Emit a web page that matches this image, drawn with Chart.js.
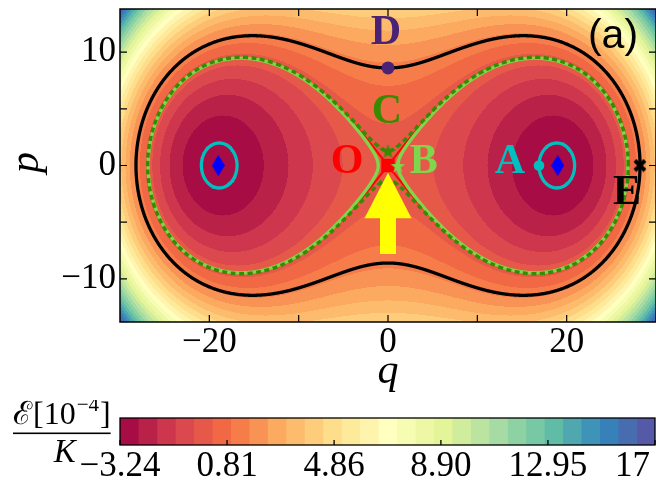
<!DOCTYPE html>
<html>
<head>
<meta charset="utf-8">
<script src="https://cdn.jsdelivr.net/npm/chart.js@4.4.1/dist/chart.umd.min.js"></script>
<style>
  html, body { margin: 0; padding: 0; background: #fff; width: 656px; height: 482px; overflow: hidden; }
  canvas { position: absolute; left: 0; }
  #main { top: 0; }
  #bar { top: 400px; }
</style>
</head>
<body>
<canvas id="main" width="656" height="400"></canvas>
<canvas id="bar" width="656" height="82"></canvas>
<script>
// Energy landscape E(q,p)/K of the double-well oscillator, in units of 1e-4
const Q_WELL = 19;        // well centres at q = ±19, saddle at the origin
const E_MIN = -3.24;      // energy at the bottom of the wells
const E_MAX = 17;         // top of the colour scale
const N_BANDS = 29;       // number of filled contour bands

const Q_RANGE = [-30, 30];
const P_RANGE = [-13.8, 13.8];

const X_TICKS = [-20, -10, 0, 10, 20];
const X_TICK_LABELS = ['\u221220', '', '0', '', '20'];
const Y_TICKS = [-10, -5, 0, 5, 10];
const Y_TICK_LABELS = ['\u221210', '', '0', '', '10'];
const CB_TICKS = [-3.24, 0.81, 4.86, 8.90, 12.95, 17];
const CB_TICK_LABELS = ['\u22123.24', '0.81', '4.86', '8.90', '12.95', '17'];

// labelled phase-space points
const POINT_NAMES = ['O', 'A', 'B', 'C', 'D', 'E'];
const POINT_Q = [0, 16.9, 1.1, 0, 0, 28.2];
const POINT_P = [0, 0, 0, 1.3, 8.6, 0];
// well minima
const WELL_Q = [-19, 19];
const WELL_P = [0, 0];
// arrow pointing at the saddle
const ARROW_TAIL = [0, -7.8];
const ARROW_TIP = [0, -0.63];

// ---------------------------------------------------------------------------
const H_SCALE = -E_MIN / Math.pow(Q_WELL, 4);
function energy(q, p) {
  const r2 = q * q + p * p;
  return H_SCALE * (r2 * r2 - 2 * Q_WELL * Q_WELL * (q * q - p * p));
}
const LEVELS = Array.from({ length: N_BANDS + 1 }, (_, i) => E_MIN + i * (E_MAX - E_MIN) / N_BANDS);

const SPECTRAL_STOPS = [[158,1,66],[213,62,79],[244,109,67],[253,174,97],[254,224,139],[255,255,191],
                        [230,245,152],[171,221,164],[102,194,165],[50,136,189],[94,79,162]];
function spectral(t) {
  const s = t * (SPECTRAL_STOPS.length - 1);
  const i = Math.min(Math.floor(s), SPECTRAL_STOPS.length - 2);
  const f = s - i, a = SPECTRAL_STOPS[i], b = SPECTRAL_STOPS[i + 1];
  return a.map((v, k) => Math.round(v + (b[k] - v) * f));
}
const BAND_RGB = Array.from({ length: N_BANDS }, (_, i) => spectral((i + 0.5) / N_BANDS));
const BAND_COLORS = BAND_RGB.map(c => `rgb(${c[0]},${c[1]},${c[2]})`);

function pointOf(name) {
  const i = POINT_NAMES.indexOf(name);
  return { x: POINT_Q[i], y: POINT_P[i] };
}

// closed level curve energy(q,p) = E, traced along rays from an interior centre
function levelCurve(E, cq, cp, n) {
  const pts = [];
  for (let k = 0; k < n; k++) {
    const a = 2 * Math.PI * (k + 0.5) / n, c = Math.cos(a), s = Math.sin(a);
    let lo = 0, hi = 0;
    while (energy(cq + hi * c, cp + hi * s) < E && hi < 80) { lo = hi; hi += 0.05; }
    for (let j = 0; j < 40; j++) {
      const m = (lo + hi) / 2;
      if (energy(cq + m * c, cp + m * s) < E) lo = m; else hi = m;
    }
    const r = (lo + hi) / 2;
    pts.push({ x: cq + r * c, y: cp + r * s });
  }
  pts.push(pts[0]);
  return pts;
}

const eD = energy(pointOf('D').x, pointOf('D').y);
const eO = energy(pointOf('O').x, pointOf('O').y);
const eB = energy(pointOf('B').x, pointOf('B').y);
const eC = energy(pointOf('C').x, pointOf('C').y);
const eA = energy(pointOf('A').x, pointOf('A').y);

const COL = {
  O: '#ff0000', A: '#00bfbf', B: '#7fd54c', C: '#388a00', D: '#4a2276', E: '#000000'
};

// marker glyphs
function markerCanvas(w, h, draw) {
  const c = document.createElement('canvas');
  c.width = w; c.height = h;
  draw(c.getContext('2d'), w, h);
  return c;
}
const thinDiamond = markerCanvas(13, 21, (g, w, h) => {
  g.fillStyle = '#0000ff';
  g.beginPath(); g.moveTo(w / 2, 0); g.lineTo(w, h / 2); g.lineTo(w / 2, h); g.lineTo(0, h / 2); g.closePath(); g.fill();
});
function star(color, size) {
  return markerCanvas(size, size, (g, w, h) => {
    const R = w / 2, r = R * 0.42;
    g.fillStyle = color;
    g.beginPath();
    for (let i = 0; i < 10; i++) {
      const rad = i % 2 ? r : R, a = -Math.PI / 2 + i * Math.PI / 5;
      g.lineTo(w / 2 + rad * Math.cos(a), h / 2 + 1 + rad * Math.sin(a));
    }
    g.closePath(); g.fill();
  });
}
const thickX = markerCanvas(14, 14, (g, w, h) => {
  g.strokeStyle = '#000'; g.lineWidth = 4; g.lineCap = 'butt';
  g.beginPath(); g.moveTo(2, 2); g.lineTo(w - 2, h - 2); g.moveTo(w - 2, 2); g.lineTo(2, h - 2); g.stroke();
});

const SERIF = "'Liberation Serif', 'DejaVu Serif', serif";

// fixed axis sizes; tick labels are painted by the plugin below
function fixSize(prop, size) {
  return s => {
    s[prop] = size;
    s.paddingTop = s.paddingBottom = s.paddingLeft = s.paddingRight = 0;
  };
}

// filled contour field, arrow, frame, ticks and texts
const fieldPlugin = {
  id: 'field',
  beforeDatasetsDraw(chart) {
    const { ctx, chartArea: a, scales: { x, y } } = chart;
    const L = Math.round(a.left), T = Math.round(a.top);
    const W = Math.round(a.right) - L, H = Math.round(a.bottom) - T;
    const img = ctx.createImageData(W, H);
    const qs = Array.from({ length: W }, (_, i) => x.getValueForPixel(L + i + 0.5));
    const ps = Array.from({ length: H }, (_, j) => y.getValueForPixel(T + j + 0.5));
    const dE = (E_MAX - E_MIN) / N_BANDS;
    let o = 0;
    for (let j = 0; j < H; j++) {
      for (let i = 0; i < W; i++) {
        let b = Math.floor((energy(qs[i], ps[j]) - E_MIN) / dE);
        b = Math.max(0, Math.min(N_BANDS - 1, b));
        const c = BAND_RGB[b];
        img.data[o++] = c[0]; img.data[o++] = c[1]; img.data[o++] = c[2]; img.data[o++] = 255;
      }
    }
    ctx.putImageData(img, L, T);
  },
  afterDatasetsDraw(chart) {
    const { ctx, scales: { x, y } } = chart;
    const tx = x.getPixelForValue(ARROW_TIP[0]), ty = y.getPixelForValue(ARROW_TIP[1]);
    const bx = x.getPixelForValue(ARROW_TAIL[0]), by = y.getPixelForValue(ARROW_TAIL[1]);
    const sh = 8, hh = 23.5, hl = 45.5;
    ctx.save();
    ctx.fillStyle = '#ffff00';
    ctx.beginPath();
    ctx.moveTo(bx - sh, by); ctx.lineTo(bx - sh, ty + hl); ctx.lineTo(tx - hh, ty + hl);
    ctx.lineTo(tx, ty); ctx.lineTo(tx + hh, ty + hl); ctx.lineTo(bx + sh, ty + hl); ctx.lineTo(bx + sh, by);
    ctx.closePath(); ctx.fill();
    ctx.restore();
  },
  afterDraw(chart) {
    const { ctx, chartArea: a, scales: { x, y } } = chart;
    ctx.save();
    // frame and inward ticks on all four sides
    ctx.strokeStyle = '#000';
    ctx.lineWidth = 1.5;
    ctx.strokeRect(a.left, a.top, a.right - a.left, a.bottom - a.top);
    ctx.lineWidth = 1.2;
    ctx.beginPath();
    X_TICKS.forEach(v => {
      const px = x.getPixelForValue(v);
      ctx.moveTo(px, a.bottom); ctx.lineTo(px, a.bottom - 7);
      ctx.moveTo(px, a.top); ctx.lineTo(px, a.top + 7);
    });
    Y_TICKS.forEach(v => {
      const py = y.getPixelForValue(v);
      ctx.moveTo(a.left, py); ctx.lineTo(a.left + 7, py);
      ctx.moveTo(a.right, py); ctx.lineTo(a.right - 7, py);
    });
    ctx.stroke();

    // tick labels
    ctx.fillStyle = '#000';
    ctx.font = `35px ${SERIF}`;
    ctx.textAlign = 'center';
    ctx.textBaseline = 'alphabetic';
    X_TICKS.forEach((v, i) => ctx.fillText(X_TICK_LABELS[i], x.getPixelForValue(v), a.bottom + 30));
    ctx.textAlign = 'right';
    ctx.textBaseline = 'middle';
    Y_TICKS.forEach((v, i) => ctx.fillText(Y_TICK_LABELS[i], a.left - 4, y.getPixelForValue(v)));

    // point labels
    const OFF = { O: [-41, -3], A: [-29, -3], B: [26, -3], C: [-1, -39], D: [-2, -35], E: [-13, 28] };
    ctx.font = `bold 42px ${SERIF}`;
    ctx.textAlign = 'center';
    ctx.textBaseline = 'middle';
    POINT_NAMES.forEach((n, i) => {
      ctx.fillStyle = COL[n];
      ctx.fillText(n, x.getPixelForValue(POINT_Q[i]) + OFF[n][0], y.getPixelForValue(POINT_P[i]) + OFF[n][1]);
    });

    // panel tag
    ctx.fillStyle = '#000';
    ctx.font = "41px 'Liberation Sans', Arial, sans-serif";
    ctx.textBaseline = 'alphabetic';
    ctx.fillText('(a)', 613, 48);

    // axis titles
    ctx.font = `italic 42px ${SERIF}`;
    ctx.fillText('q', x.getPixelForValue(0), 383);
    ctx.translate(38, y.getPixelForValue(0) - 3);
    ctx.rotate(-Math.PI / 2);
    ctx.fillText('p', 0, 0);
    ctx.restore();
  }
};

// tiny tension keeps the renderer on the exact path for closed curves
const lineSet = (data, color, width, order, dash) => ({
  type: 'scatter', data, showLine: true, pointRadius: 0, borderColor: color, borderWidth: width,
  borderDash: dash || [], fill: false, tension: 0.0001, order
});
const markerSet = (data, style, radius, color, order) => ({
  type: 'scatter', data, pointStyle: style, pointRadius: radius, backgroundColor: color,
  borderColor: color, borderWidth: 0, order
});

const N = 1440;
new Chart(document.getElementById('main'), {
  type: 'scatter',
  data: {
    datasets: [
      markerSet([pointOf('C')], star(COL.C, 15), 6, COL.C, 0),
      markerSet([pointOf('B')], star(COL.B, 15), 6, COL.B, 0),
      markerSet([pointOf('E')], thickX, 6, '#000', 1),
      markerSet([pointOf('O')], 'rect', 9.5, COL.O, 2),
      markerSet([pointOf('D')], 'circle', 6.5, COL.D, 2),
      markerSet([pointOf('A')], 'circle', 5.3, COL.A, 2),
      markerSet(WELL_Q.map((q, i) => ({ x: q, y: WELL_P[i] })), thinDiamond, 6, '#0000ff', 2),
      lineSet(levelCurve(eA, WELL_Q[1], WELL_P[1], N), COL.A, 3.3, 5),
      lineSet(levelCurve(eA, WELL_Q[0], WELL_P[0], N), COL.A, 3.3, 5),
      lineSet(levelCurve(eC, 0, 0, N), COL.C, 3.5, 6, [5, 3.5]),
      lineSet(levelCurve(eB, WELL_Q[1], WELL_P[1], N), COL.B, 3.4, 7),
      lineSet(levelCurve(eB, WELL_Q[0], WELL_P[0], N), COL.B, 3.4, 7),
      lineSet(levelCurve(eO, WELL_Q[1], WELL_P[1], N), COL.O, 2, 8),
      lineSet(levelCurve(eO, WELL_Q[0], WELL_P[0], N), COL.O, 2, 8),
      lineSet(levelCurve(eD, 0, 0, N), '#000', 3.3, 9)
    ]
  },
  options: {
    responsive: false, animation: false, devicePixelRatio: 1, events: [],
    layout: { autoPadding: false, padding: { top: 9, left: 0, right: 0, bottom: 0 } },
    plugins: { legend: { display: false }, tooltip: { enabled: false } },
    scales: {
      x: {
        type: 'linear', min: Q_RANGE[0], max: Q_RANGE[1],
        grid: { display: false, drawTicks: false }, border: { display: false },
        afterBuildTicks: s => { s.ticks = X_TICKS.map(v => ({ value: v })); },
        ticks: { display: false },
        afterFit: fixSize('height', 78)
      },
      y: {
        type: 'linear', min: P_RANGE[0], max: P_RANGE[1],
        grid: { display: false, drawTicks: false }, border: { display: false },
        afterBuildTicks: s => { s.ticks = Y_TICKS.map(v => ({ value: v })); },
        ticks: { display: false },
        afterFit: fixSize('width', 120)
      }
    }
  },
  plugins: [fieldPlugin]
});

// colour bar
const colorbarPlugin = {
  id: 'colorbar',
  afterDraw(chart) {
    const { ctx, chartArea: a, scales: { x } } = chart;
    ctx.save();
    ctx.strokeStyle = '#000';
    ctx.lineWidth = 1.3;
    ctx.strokeRect(a.left, a.top, a.right - a.left, a.bottom - a.top);
    ctx.beginPath();
    CB_TICKS.forEach(v => {
      const px = x.getPixelForValue(v);
      ctx.moveTo(px, a.bottom); ctx.lineTo(px, a.bottom - 5);
    });
    ctx.stroke();

    ctx.fillStyle = '#000';
    ctx.font = `35px ${SERIF}`;
    ctx.textBaseline = 'alphabetic';
    CB_TICKS.forEach((v, i) => {
      const px = x.getPixelForValue(v);
      const last = i === CB_TICKS.length - 1;
      ctx.textAlign = last ? 'right' : 'center';
      ctx.fillText(CB_TICK_LABELS[i], last ? px - 5 : px, 76);
    });

    // quantity label: E[10^-4] over K
    ctx.textAlign = 'left';
    let cx = 13;
    ctx.font = `32px ${SERIF}`;
    ctx.fillText('\u2130', cx, 24); cx += ctx.measureText('\u2130').width + 1;
    ctx.fillText('[10', cx, 24); cx += ctx.measureText('[10').width;
    ctx.font = `21px ${SERIF}`;
    ctx.fillText('\u22124', cx + 1, 11); cx += ctx.measureText('\u22124').width + 2;
    ctx.font = `32px ${SERIF}`;
    ctx.fillText(']', cx, 24); cx += ctx.measureText(']').width;
    ctx.fillRect(13, 32.5, cx - 13, 1.6);
    ctx.font = `italic 33px ${SERIF}`;
    ctx.textAlign = 'center';
    ctx.fillText('K', (13 + cx) / 2 + 3, 62);
    ctx.restore();
  }
};

new Chart(document.getElementById('bar'), {
  type: 'bar',
  data: {
    labels: [''],
    datasets: BAND_COLORS.map((c, i) => ({
      data: [[LEVELS[i], LEVELS[i + 1]]], backgroundColor: c, borderWidth: 0,
      barPercentage: 1, categoryPercentage: 1, grouped: false
    }))
  },
  options: {
    indexAxis: 'y', responsive: false, animation: false, devicePixelRatio: 1, events: [],
    layout: { autoPadding: false, padding: { top: 18, left: 120, right: 1, bottom: 0 } },
    plugins: { legend: { display: false }, tooltip: { enabled: false } },
    scales: {
      x: {
        type: 'linear', min: E_MIN, max: E_MAX,
        grid: { display: false, drawTicks: false }, border: { display: false },
        afterBuildTicks: s => { s.ticks = CB_TICKS.map(v => ({ value: v })); },
        ticks: { display: false },
        afterFit: fixSize('height', 37)
      },
      y: { display: false }
    }
  },
  plugins: [colorbarPlugin]
});
</script>
</body>
</html>
